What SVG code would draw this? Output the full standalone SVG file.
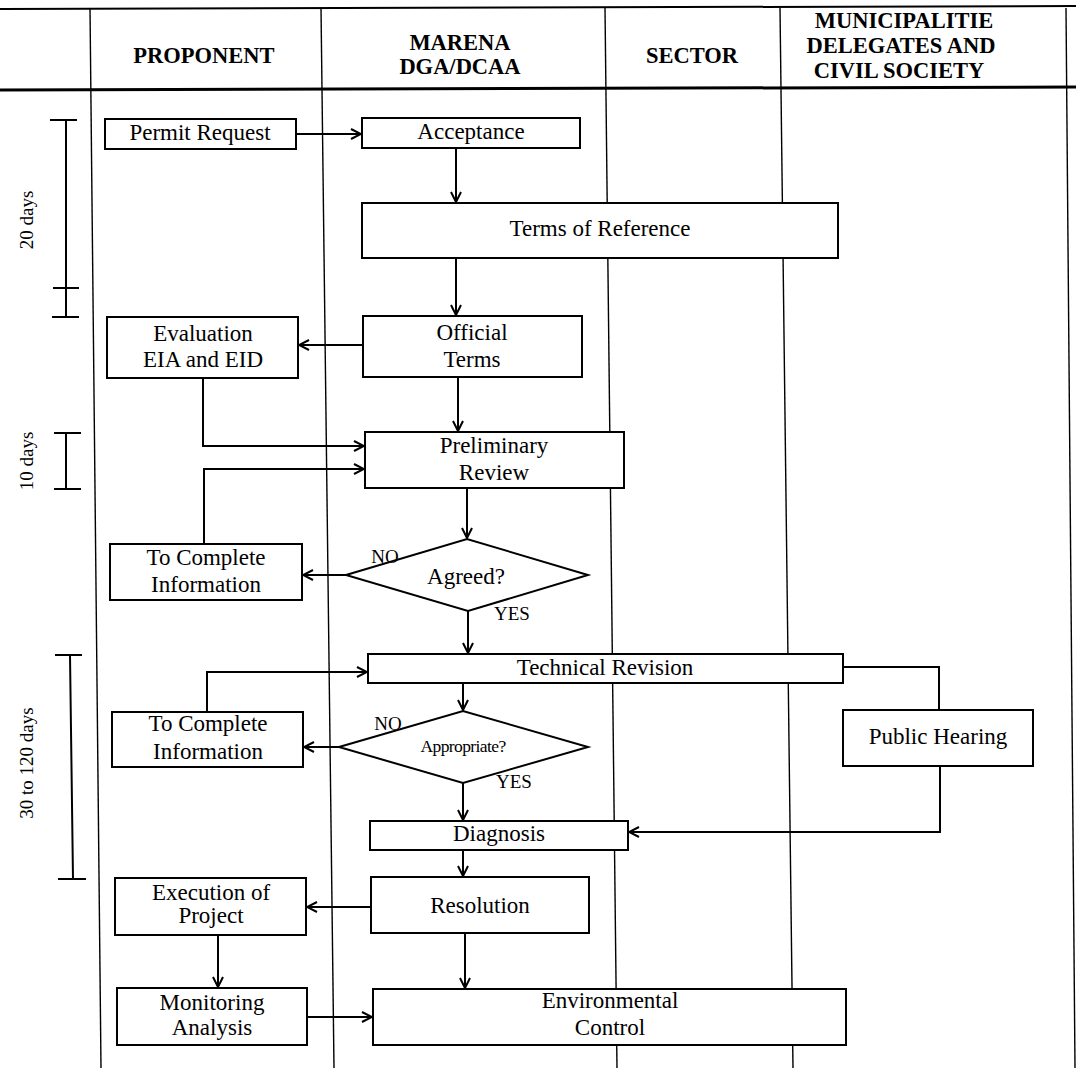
<svg xmlns="http://www.w3.org/2000/svg" width="1076" height="1068" viewBox="0 0 1076 1068">
<defs>
<style>
.box{fill:#fff;stroke:#000;stroke-width:2}
.lane{stroke:#000;stroke-width:1.4;fill:none}
.rule{stroke:#000;fill:none}
.conn{fill:none;stroke:#000;stroke-width:2;marker-end:url(#arr)}
.plain{fill:none;stroke:#000;stroke-width:2}
.brk{stroke:#000;stroke-width:2;fill:none}
text{font-family:"Liberation Serif","Times New Roman",serif;fill:#000;text-anchor:middle}
.t{font-size:23px}
.h{font-size:22.5px;font-weight:bold}
.d{font-size:19px}
.lbl{font-size:19px}
</style>
<marker id="arr" viewBox="0 0 12 12" refX="11" refY="6" markerWidth="12" markerHeight="12" markerUnits="userSpaceOnUse" orient="auto">
<path d="M1,1 L11,6 L1,11" fill="none" stroke="#000" stroke-width="2"/>
</marker>
</defs>
<rect width="1076" height="1068" fill="#fff"/>

<g id="grid">
<line class="rule" x1="0" y1="9" x2="1076" y2="6" stroke-width="2"/>
<line class="rule" x1="0" y1="90" x2="1076" y2="87" stroke-width="3"/>
<line class="lane" x1="90" y1="8" x2="101" y2="1068"/>
<line class="lane" x1="321" y1="8" x2="334" y2="1068"/>
<line class="lane" x1="605" y1="8" x2="617" y2="1068"/>
<line class="lane" x1="780" y1="8" x2="793" y2="1068"/>
<line class="lane" x1="1066" y1="8" x2="1075" y2="1068"/>
</g>

<g id="headers">
<text class="h" x="204" y="63">PROPONENT</text>
<text class="h" x="460" y="50">MARENA</text>
<text class="h" x="460" y="74">DGA/DCAA</text>
<text class="h" x="692" y="63">SECTOR</text>
<text class="h" x="904" y="28">MUNICIPALITIE</text>
<text class="h" x="901" y="53">DELEGATES AND</text>
<text class="h" x="899" y="78">CIVIL SOCIETY</text>
</g>

<g id="timeline">
<path class="brk" d="M50,120 H77 M66,120 V317 M53,288 H79 M52,317 H79"/>
<text class="d" transform="translate(33,220) rotate(-90)">20 days</text>
<path class="brk" d="M54,433 H81 M66,433 V489 M54,489 H81"/>
<text class="d" transform="translate(33,461) rotate(-90)">10 days</text>
<path class="brk" d="M55,655 H82 M70,655 L73,879 M58,879 H86"/>
<text class="d" transform="translate(33,763) rotate(-90)">30 to 120 days</text>
</g>

<g id="connectors">
<path class="conn" d="M296,134 H361"/>
<path class="conn" d="M456,148 V202"/>
<path class="conn" d="M456,258 V315"/>
<path class="conn" d="M362,345 H299"/>
<path class="conn" d="M458,377 V431"/>
<path class="conn" d="M203,378 V446 H364"/>
<path class="conn" d="M204,544 V469 H364"/>
<path class="conn" d="M467,488 V538"/>
<path class="conn" d="M346,575 H303"/>
<path class="conn" d="M468,611 V653"/>
<path class="conn" d="M207,712 V672 H367"/>
<path class="conn" d="M463,683 V710"/>
<path class="conn" d="M339,747 H304"/>
<path class="conn" d="M463,783 V820"/>
<path class="plain" d="M843,667 H939 V710"/>
<path class="conn" d="M940,766 V832 H629"/>
<path class="conn" d="M463,850 V876"/>
<path class="conn" d="M371,907 H307"/>
<path class="conn" d="M465,933 V988"/>
<path class="conn" d="M218,935 V987"/>
<path class="conn" d="M307,1017 H372"/>
</g>

<g id="permit-request">
<rect class="box" x="105" y="119" width="191" height="30"/>
<text class="t" x="200" y="140">Permit Request</text>
</g>
<g id="acceptance">
<rect class="box" x="362" y="118" width="218" height="30"/>
<text class="t" x="471" y="139">Acceptance</text>
</g>
<g id="terms-of-reference">
<rect class="box" x="362" y="203" width="476" height="55"/>
<text class="t" x="600" y="236">Terms of Reference</text>
</g>
<g id="official-terms">
<rect class="box" x="363" y="316" width="219" height="61"/>
<text class="t" x="472" y="340">Official</text>
<text class="t" x="472" y="367">Terms</text>
</g>
<g id="evaluation">
<rect class="box" x="107" y="317" width="191" height="61"/>
<text class="t" x="203" y="341">Evaluation</text>
<text class="t" x="203" y="367">EIA and EID</text>
</g>
<g id="preliminary-review">
<rect class="box" x="365" y="432" width="259" height="56"/>
<text class="t" x="494" y="453">Preliminary</text>
<text class="t" x="494" y="480">Review</text>
</g>
<g id="agreed">
<polygon class="box" points="346,575 467,539 588,575 468,611"/>
<text class="t" x="466" y="584">Agreed?</text>
<text class="lbl" x="385" y="563">NO</text>
<text class="lbl" x="512" y="620">YES</text>
</g>
<g id="to-complete-1">
<rect class="box" x="110" y="544" width="192" height="56"/>
<text class="t" x="206" y="565">To Complete</text>
<text class="t" x="206" y="592">Information</text>
</g>
<g id="technical-revision">
<rect class="box" x="368" y="654" width="475" height="29"/>
<text class="t" x="605" y="675">Technical Revision</text>
</g>
<g id="to-complete-2">
<rect class="box" x="112" y="712" width="191" height="55"/>
<text class="t" x="208" y="731">To Complete</text>
<text class="t" x="208" y="759">Information</text>
</g>
<g id="appropriate">
<polygon class="box" points="339,747 463,711 588,747 463,783"/>
<text x="463" y="752" style="font-size:17.5px;letter-spacing:-0.6px">Appropriate?</text>
<text class="lbl" x="388" y="730">NO</text>
<text class="lbl" x="514" y="788">YES</text>
</g>
<g id="public-hearing">
<rect class="box" x="843" y="710" width="190" height="56"/>
<text class="t" x="938" y="744">Public Hearing</text>
</g>
<g id="diagnosis">
<rect class="box" x="370" y="821" width="258" height="29"/>
<text class="t" x="499" y="841">Diagnosis</text>
</g>
<g id="resolution">
<rect class="box" x="371" y="877" width="218" height="56"/>
<text class="t" x="480" y="913">Resolution</text>
</g>
<g id="execution">
<rect class="box" x="115" y="878" width="191" height="57"/>
<text class="t" x="211" y="900">Execution of</text>
<text class="t" x="211" y="923">Project</text>
</g>
<g id="monitoring">
<rect class="box" x="117" y="988" width="190" height="57"/>
<text class="t" x="212" y="1010">Monitoring</text>
<text class="t" x="212" y="1035">Analysis</text>
</g>
<g id="environmental-control">
<rect class="box" x="373" y="989" width="473" height="56"/>
<text class="t" x="610" y="1008">Environmental</text>
<text class="t" x="610" y="1035">Control</text>
</g>
</svg>
